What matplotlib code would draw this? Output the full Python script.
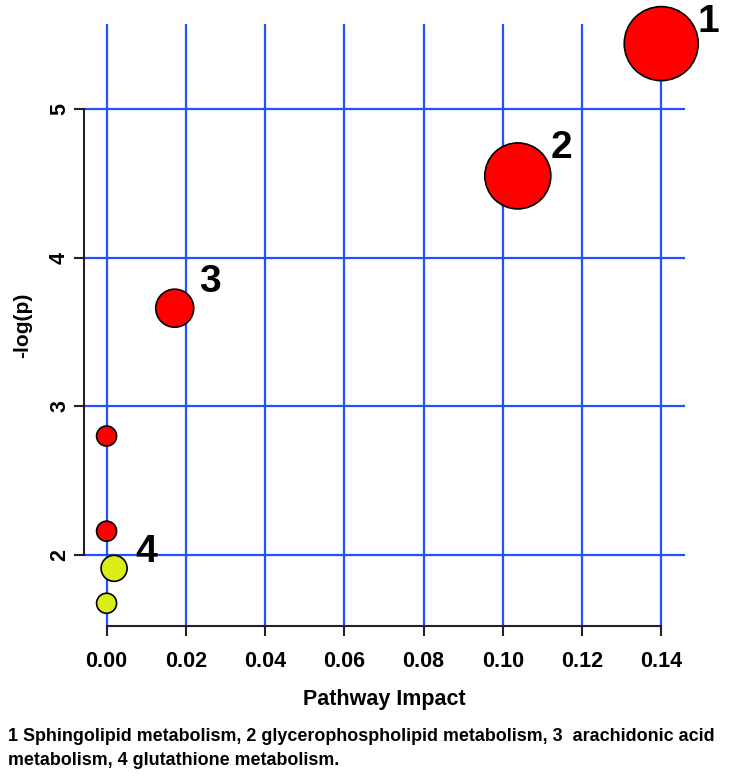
import matplotlib
matplotlib.use('Agg')
import matplotlib.pyplot as plt

# pathway impact vs -log(p)
impact = [0.140, 0.1038, 0.0172, 0.0, 0.0, 0.0019, 0.0]
neglogp = [5.44, 4.55, 3.66, 2.80, 2.16, 1.91, 1.675]
radius_px = [37, 33, 19, 10, 10, 13, 10]
colors = ['#ff0000', '#ff0000', '#ff0000', '#ff0000', '#ff0000', '#d8ee16', '#d8ee16']
labels = ['1', '2', '3', '', '', '4', '']
label_offsets = [(47, 22), (44, 28), (35, 26), (0, 0), (0, 0), (32, 16), (0, 0)]

xticks = [0.00, 0.02, 0.04, 0.06, 0.08, 0.10, 0.12, 0.14]
yticks = [2, 3, 4, 5]
caption = ("1 Sphingolipid metabolism, 2 glycerophospholipid metabolism, 3  arachidonic acid\n"
           "metabolism, 4 glutathione metabolism.")

plt.rcParams['font.family'] = ['Liberation Sans', 'DejaVu Sans']
plt.rcParams['font.weight'] = 'bold'

W, H = 729, 777
fig = plt.figure(figsize=(W / 100, H / 100), dpi=100)
ax = fig.add_axes([84 / W, 1 - 626 / H, 601 / W, 602 / H])
ax.set_xlim(-0.0057, 0.146)
ax.set_ylim(1.522, 5.572)

grid_col = '#2050ff'
for x in xticks:
    ax.axvline(x, color=grid_col, lw=1.6, zorder=1)
for y in yticks:
    ax.axhline(y, color=grid_col, lw=1.6, zorder=1)

sizes = [(2 * r * 0.72) ** 2 for r in radius_px]
ax.scatter(impact, neglogp, s=sizes, c=colors, edgecolors='black', linewidths=1.2,
           zorder=3, clip_on=False)

for x, y, lab, off in zip(impact, neglogp, labels, label_offsets):
    if lab:
        ax.annotate(lab, (x, y), xytext=off, textcoords='offset pixels',
                    ha='center', va='center', fontsize=28, fontweight='bold',
                    zorder=4, annotation_clip=False)

for side in ['top', 'right']:
    ax.spines[side].set_visible(False)
ax.spines['left'].set_bounds(2, 5)
ax.spines['bottom'].set_bounds(0, 0.14)
for side in ['left', 'bottom']:
    ax.spines[side].set_linewidth(1.5)
    ax.spines[side].set_color('#222222')

ax.set_xticks(xticks)
ax.set_xticklabels(['%.2f' % v for v in xticks])
ax.set_yticks(yticks)
ax.set_yticklabels([str(v) for v in yticks], rotation=90, va='center')
ax.tick_params(length=7, width=1.5, color='#222222', labelsize=15.5)
ax.tick_params(axis='x', pad=11)
ax.tick_params(axis='y', pad=3)

ax.set_xlabel('Pathway Impact', fontsize=15.5, fontweight='bold', labelpad=12)
ax.set_ylabel('-log(p)', fontsize=15, fontweight='bold', labelpad=12)

fig.text(8 / W, 1 - 728 / H, caption, ha='left', va='top', fontsize=12.9,
         fontweight='bold', linespacing=1.55)

fig.savefig('out.png', dpi=100)
